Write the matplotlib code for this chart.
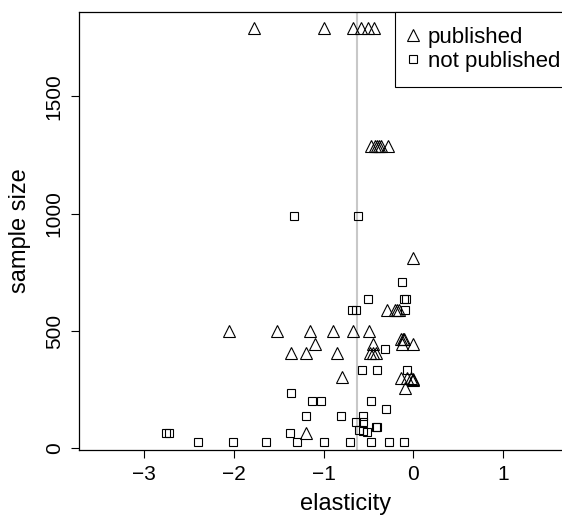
import matplotlib.pyplot as plt

plt.rcParams['font.family'] = ['Liberation Sans', 'DejaVu Sans']

# published studies
pub_elast = [-1.77, -1.00, -0.67, -0.58, -0.51, -0.44,
             -0.47, -0.43, -0.40, -0.38, -0.36, -0.28,
             0.00,
             -0.29, -0.20, -0.18, -0.16,
             -2.05, -1.52, -1.15, -0.89, -0.67, -0.49,
             -0.14, -0.12, -0.10, -0.13, -0.01, -1.09, -0.45,
             -1.36, -1.20, -0.85, -0.48, -0.45, -0.42,
             -0.79, -0.14, -0.07, -0.03, -0.01, 0.00, -0.09,
             -1.19]
pub_size = [1790, 1790, 1790, 1790, 1790, 1790,
            1290, 1290, 1290, 1290, 1290, 1290,
            810,
            590, 590, 590, 590,
            500, 500, 500, 500, 500, 500,
            465, 465, 465, 445, 445, 445, 445,
            405, 405, 405, 405, 405, 405,
            303, 300, 300, 300, 295, 290, 258,
            65]

# not published studies
unpub_elast = [-1.33, -0.62, -0.13, -0.50, -0.11, -0.08,
               -0.68, -0.64, -0.09, -0.32, -0.57, -0.41, -0.07,
               -1.36, -1.13, -1.03, -0.47, -0.31, -1.19, -0.81, -0.56,
               -0.64, -0.56, -0.42, -0.40, -0.61, -0.56, -0.52,
               -1.37, -2.75, -2.72,
               -2.40, -2.01, -1.64, -1.30, -0.99, -0.71, -0.47, -0.27, -0.11]
unpub_size = [990, 990, 708, 636, 636, 636,
              590, 590, 590, 423, 334, 334, 334,
              234, 203, 203, 203, 166, 140, 138, 138,
              113, 113, 92, 92, 78, 75, 70,
              67, 67, 67,
              28, 28, 28, 28, 28, 28, 28, 28, 28]

mean_elast = -0.63

fig = plt.figure(figsize=(5.62, 5.18), dpi=100)
# plot box runs past the right edge of the picture
ax = fig.add_axes([79/562, 68/518, 534/562, 438/518])

ax.axvline(mean_elast, color='#c8c8c8', lw=1.5, zorder=1)
ax.plot(pub_elast, pub_size, ls='none', marker='^', ms=8.5, mfc='none',
        mec='black', mew=0.8, label='published', zorder=3)
ax.plot(unpub_elast, unpub_size, ls='none', marker='s', ms=6, mfc='none',
        mec='black', mew=0.8, label='not published', zorder=3)

ax.set_xlim(-3.72, 2.22)
ax.set_ylim(-7, 1860)
ax.set_xticks([-3, -2, -1, 0, 1])
ax.set_xticklabels(['\u22123', '\u22122', '\u22121', '0', '1'])
ax.set_yticks([0, 500, 1000, 1500])
ax.set_yticklabels(['0', '500', '1000', '1500'], rotation=90, va='center')
ax.tick_params(direction='out', length=6, width=0.8, labelsize=15, pad=5)

for s in ax.spines.values():
    s.set_linewidth(0.9)

ax.set_xlabel('elasticity', fontsize=17, labelpad=6)
ax.set_ylabel('sample size', fontsize=17, labelpad=10)

leg = ax.legend(loc='upper left', bbox_to_anchor=((395-79)/534, 1.0),
                fontsize=16, handlelength=0.3, handletextpad=0.5,
                borderpad=0.68, labelspacing=0.13, borderaxespad=0,
                fancybox=False, framealpha=1, edgecolor='black')
leg.get_frame().set_linewidth(0.8)

plt.savefig('out.png', dpi=100)
